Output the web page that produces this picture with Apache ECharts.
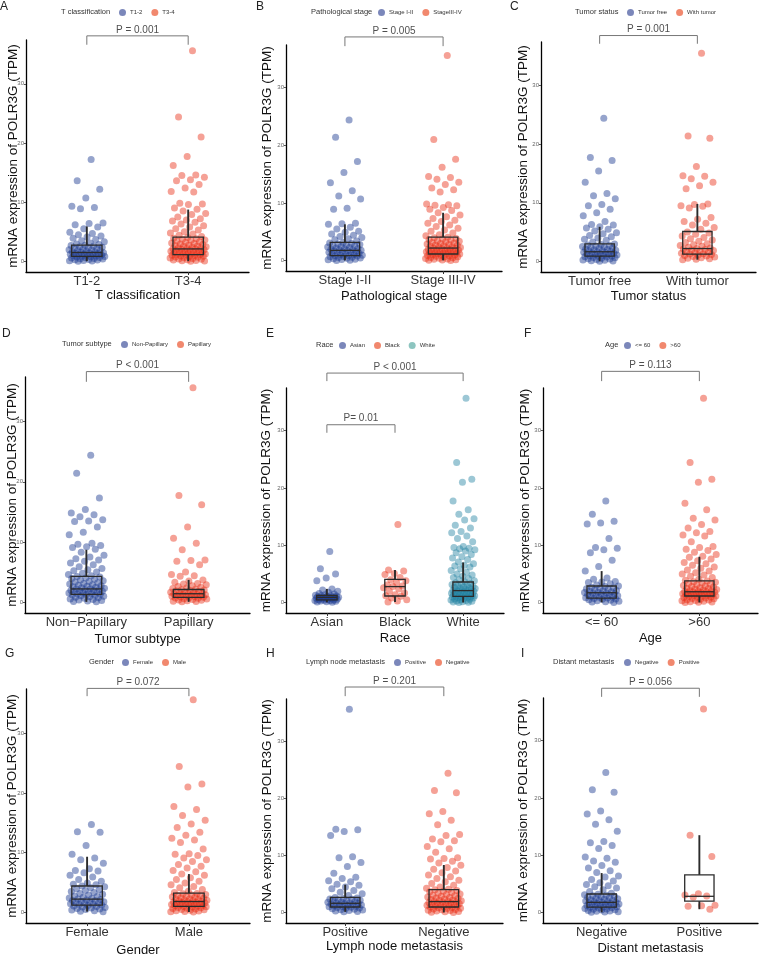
<!DOCTYPE html>
<html><head><meta charset="utf-8">
<script src="https://cdn.jsdelivr.net/npm/echarts@6/dist/echarts.min.js"></script>
<style>html,body{margin:0;padding:0;background:#fff}#c{width:761px;height:960px}</style>
</head><body><div id="c"></div>
<script>
// ---------------- categories ----------------
const catsA = ['T1-2', 'T3-4'];
const catsB = ['Stage I-II', 'Stage III-IV'];
const catsC = ['Tumor free', 'With tumor'];
const catsD = ['Non\u2212Papillary', 'Papillary'];
const catsE = ['Asian', 'Black', 'White'];
const catsF = ['<= 60', '>60'];
const catsG = ['Female', 'Male'];
const catsH = ['Positive', 'Negative'];
const catsI = ['Negative', 'Positive'];
const legendNamesB = ['Stage I-II', 'StageIII-IV'];
const legendNamesD = ['Non-Papillary', 'Papillary'];

// ---------------- values (TPM) ----------------
const valsA1 = [17.2,13.6,12.2,10.7,9.3,9.1,8.9,6.5,6.4,6.2,5.8,5.5,4.9,4.7,4.5,4.3,4.1,3.9,3.7,3.5,3.3,3.1,
 2.95,2.83,2.74,2.66,2.58,2.47,2.39,2.31,2.22,2.14,2.06,1.98,1.91,1.83,1.77,1.71,1.64,1.57,1.52,1.47,1.41,1.36,1.31,1.26,1.21,1.16,1.11,1.06,1.01,0.96,0.91,0.87,0.83,0.78,0.72,0.66,0.61,0.55,0.49,0.43,0.38,0.32,0.27,0.21,0.16,0.11,0.07,0.03];
const valsA2 = [35.6,24.4,21.0,17.7,16.2,14.6,14.5,14.2,13.8,13.6,13.0,12.4,11.8,11.7,9.8,9.7,9.6,9.0,8.8,8.5,8.1,7.9,7.5,7.2,7.0,6.8,6.6,6.3,6.0,5.8,5.5,5.3,5.0,4.8,4.6,4.4,4.2,
 4.05,3.92,3.81,3.74,3.62,3.55,3.43,3.31,3.24,3.12,3.03,2.94,2.86,2.77,2.69,2.61,2.53,2.46,2.38,2.31,2.24,2.17,2.12,2.08,2.03,1.97,1.91,1.86,1.81,1.75,1.69,1.63,1.58,1.52,1.47,1.41,1.36,1.31,1.26,1.21,1.17,1.12,1.08,1.03,0.98,0.92,0.86,0.81,0.74,0.68,0.61,0.55,0.48,0.41,0.35,0.28,0.22,0.16,0.11,0.06,0.03];
const valsB1 = [24.4,21.4,17.2,15.3,13.5,12.1,11.2,10.7,9.1,8.9,6.5,6.4,6.3,5.8,5.5,5.1,4.9,4.6,4.4,4.2,4.0,3.8,3.6,3.4,
 3.15,3.07,2.96,2.88,2.79,2.71,2.6,2.52,2.43,2.35,2.27,2.2,2.11,2.04,1.97,1.9,1.84,1.79,1.73,1.66,1.6,1.53,1.47,1.4,1.33,1.27,1.2,1.13,1.07,1.01,0.95,0.9,0.85,0.79,0.72,0.66,0.59,0.52,0.45,0.39,0.32,0.25,0.19,0.13,0.08,0.04];
const valsB2 = [35.6,21.0,17.6,16.2,14.6,14.4,14.1,13.6,13.2,12.6,12.3,11.9,9.8,9.7,9.6,9.5,9.2,8.9,8.7,8.3,7.9,7.6,7.3,7.0,6.8,6.5,6.2,5.9,5.6,5.3,5.1,4.8,4.5,4.3,
 4.07,3.96,3.85,3.77,3.66,3.58,3.46,3.35,3.27,3.16,3.07,2.98,2.9,2.81,2.73,2.65,2.57,2.5,2.42,2.35,2.28,2.21,2.16,2.11,2.05,1.99,1.93,1.88,1.82,1.76,1.7,1.64,1.59,1.53,1.48,1.42,1.37,1.32,1.27,1.22,1.18,1.13,1.09,1.04,0.99,0.93,0.87,0.82,0.75,0.69,0.62,0.56,0.49,0.42,0.36,0.29,0.23,0.17,0.12,0.07,0.04];
const valsC1 = [24.4,17.7,17.2,15.4,13.5,11.6,11.2,10.7,9.7,9.5,8.9,8.3,7.8,6.8,6.3,6.2,5.9,5.7,5.5,5.2,4.9,4.7,4.4,4.2,4.0,3.8,3.6,3.3,
 2.98,2.9,2.81,2.72,2.63,2.55,2.46,2.37,2.29,2.21,2.13,2.05,1.98,1.9,1.83,1.76,1.69,1.63,1.57,1.51,1.45,1.39,1.33,1.27,1.21,1.15,1.09,1.03,0.97,0.92,0.87,0.81,0.75,0.68,0.61,0.54,0.47,0.4,0.33,0.26,0.19,0.12,0.06,0.03];
const valsC2 = [35.5,21.4,21.0,16.2,14.6,14.5,14.1,13.5,12.9,12.4,9.8,9.7,9.5,9.4,9.1,7.5,7.2,6.8,6.5,6.2,5.8,5.5,5.0,
 4.85,4.62,4.33,4.08,3.87,3.66,3.45,3.24,3.03,2.86,2.71,2.57,2.43,2.31,2.2,2.12,2.03,1.94,1.85,1.76,1.67,1.58,1.49,1.41,1.33,1.26,1.19,1.1,1.01,0.92,0.83,0.74,0.65,0.56,0.47,0.38,0.3];
const valsD1 = [24.4,21.4,17.3,15.4,14.8,14.5,14.2,13.7,13.5,13.4,12.5,11.6,11.2,9.8,9.6,9.4,9.2,9.1,8.8,8.3,7.8,7.5,7.2,7.0,6.8,6.5,6.2,5.9,5.6,5.4,5.2,5.0,4.8,4.6,4.4,
 4.28,4.16,4.03,3.91,3.8,3.68,3.56,3.45,3.34,3.22,3.11,3.01,2.91,2.81,2.72,2.63,2.54,2.46,2.38,2.3,2.23,2.17,2.11,2.05,1.99,1.93,1.87,1.81,1.75,1.69,1.63,1.57,1.51,1.45,1.39,1.33,1.28,1.22,1.15,1.07,0.99,0.9,0.81,0.72,0.63,0.54,0.45,0.36,0.27,0.18,0.1,0.05];
const valsD2 = [35.6,17.7,16.2,12.5,10.6,9.8,8.7,7.0,6.9,6.8,6.2,5.0,4.6,4.4,4.3,3.7,3.5,3.3,3.1,3.0,
 2.88,2.74,2.61,2.49,2.38,2.27,2.16,2.08,2.01,1.94,1.87,1.8,1.73,1.66,1.6,1.54,1.48,1.42,1.37,1.32,1.27,1.22,1.17,1.12,1.07,1.02,0.97,0.92,0.87,0.82,0.77,0.71,0.65,0.58,0.51,0.44,0.37,0.3,0.23,0.16,0.1,0.05];
const valsE1 = [8.9,5.9,5.0,4.3,3.8,2.4,2.2,2.0,1.8,1.6,1.5,1.4,1.3,1.25,1.2,1.15,1.1,1.05,1.0,0.96,0.93,0.9,0.87,0.84,0.8,0.76,0.71,0.66,0.61,0.56,0.51,0.47,0.43,0.38,0.33,0.28,0.23,0.18,0.13,0.08];
const valsE2 = [13.6,5.7,5.5,5.1,4.9,4.4,4.0,3.8,3.5,3.1,2.9,2.8,2.6,2.4,2.0,1.7,1.4,1.2,1.1,0.8,0.5,0.3,0.1];
const valsE3 = [35.6,24.4,21.5,21.0,17.7,16.2,15.4,14.6,14.4,13.5,13.0,12.4,12.2,11.6,11.2,10.6,9.8,9.6,9.5,9.4,9.2,9.0,8.7,8.4,8.0,7.8,7.5,7.1,6.8,6.5,6.4,6.2,5.9,5.6,5.3,5.0,4.8,4.6,4.4,4.2,4.0,3.8,
 3.58,3.47,3.36,3.26,3.16,3.06,2.97,2.88,2.79,2.7,2.62,2.54,2.46,2.38,2.31,2.24,2.17,2.12,2.07,2.02,1.96,1.9,1.84,1.78,1.72,1.66,1.6,1.54,1.48,1.42,1.37,1.32,1.27,1.22,1.17,1.12,1.08,1.03,0.98,0.92,0.86,0.8,0.73,0.66,0.59,0.52,0.45,0.38,0.31,0.24,0.17,0.11,0.06,0.03];
const valsF1 = [17.7,15.4,14.2,13.9,13.7,11.2,9.6,9.5,9.2,8.7,7.4,6.3,5.5,4.3,4.1,3.7,3.6,3.5,3.3,3.1,
 2.92,2.81,2.7,2.6,2.5,2.41,2.32,2.23,2.14,2.06,1.98,1.9,1.83,1.76,1.7,1.63,1.56,1.49,1.42,1.35,1.28,1.21,1.14,1.07,1.0,0.93,0.86,0.8,0.73,0.66,0.58,0.5,0.42,0.34,0.26,0.18,0.11,0.05];
const valsF2 = [35.6,24.4,21.5,21.0,17.3,16.2,14.7,14.4,13.6,13.0,12.4,12.2,11.8,11.6,10.6,9.8,9.6,9.3,9.1,8.8,8.4,8.1,7.9,7.6,7.3,7.0,6.8,6.5,6.2,6.0,5.7,5.5,5.2,5.0,4.8,4.6,4.4,4.1,3.9,
 3.78,3.66,3.55,3.44,3.33,3.22,3.11,3.0,2.9,2.8,2.71,2.62,2.53,2.45,2.37,2.29,2.21,2.14,2.07,2.01,1.96,1.91,1.86,1.81,1.76,1.71,1.66,1.61,1.56,1.51,1.46,1.41,1.36,1.31,1.26,1.21,1.16,1.11,1.06,1.0,0.94,0.88,0.81,0.74,0.67,0.6,0.53,0.46,0.39,0.32,0.25,0.18,0.12,0.07,0.03];
const valsG1 = [14.7,13.5,13.4,11.2,9.7,9.1,8.8,8.2,7.3,7.0,6.9,6.6,6.2,5.9,5.5,5.2,4.9,4.7,4.6,4.4,
 4.28,4.11,3.95,3.79,3.63,3.47,3.31,3.16,3.01,2.87,2.74,2.62,2.5,2.39,2.29,2.2,2.12,2.05,1.98,1.91,1.84,1.77,1.7,1.63,1.56,1.49,1.42,1.35,1.28,1.21,1.14,1.06,0.98,0.9,0.81,0.72,0.63,0.54,0.45,0.36,0.27,0.18,0.1];
const valsG2 = [35.6,24.4,21.5,21.0,17.7,17.2,16.2,15.4,14.8,14.2,13.4,12.9,12.4,12.1,11.7,10.6,9.8,9.7,9.5,9.1,8.8,8.5,8.0,7.7,7.4,7.0,6.8,6.4,6.2,5.8,5.5,5.2,4.9,4.6,4.3,4.1,3.8,3.5,3.3,
 3.16,3.08,2.99,2.91,2.83,2.75,2.67,2.59,2.51,2.43,2.35,2.28,2.21,2.14,2.07,2.0,1.94,1.88,1.82,1.77,1.72,1.67,1.62,1.57,1.52,1.47,1.42,1.37,1.32,1.27,1.22,1.17,1.12,1.07,1.02,0.97,0.92,0.86,0.8,0.74,0.68,0.61,0.54,0.47,0.4,0.33,0.26,0.19,0.13,0.08,0.04];
const valsH1 = [35.6,14.6,14.5,14.2,13.5,9.8,9.6,8.8,8.1,6.9,6.2,6.0,5.6,5.4,5.0,4.8,4.5,4.2,3.9,3.6,3.3,3.0,
 2.68,2.59,2.5,2.42,2.34,2.26,2.18,2.1,2.03,1.96,1.89,1.82,1.75,1.69,1.63,1.57,1.51,1.45,1.39,1.33,1.27,1.21,1.15,1.09,1.03,0.97,0.91,0.84,0.77,0.7,0.62,0.54,0.46,0.38,0.3,0.22,0.15];
const valsH2 = [24.4,21.4,21.0,17.7,17.3,16.2,15.4,13.7,13.5,12.9,12.6,12.4,11.6,11.2,10.6,9.6,9.5,9.4,9.0,8.7,8.3,7.9,7.6,7.3,7.0,6.6,6.3,6.0,5.7,5.4,5.1,4.8,4.5,4.3,4.1,
 4.0,3.89,3.77,3.65,3.53,3.41,3.29,3.18,3.07,2.96,2.86,2.76,2.66,2.57,2.48,2.4,2.32,2.24,2.16,2.08,2.01,1.95,1.89,1.83,1.77,1.71,1.65,1.59,1.53,1.47,1.41,1.35,1.29,1.23,1.17,1.11,1.05,0.99,0.93,0.86,0.79,0.72,0.65,0.58,0.51,0.44,0.37,0.3,0.23,0.16,0.1,0.05];
const valsI1 = [24.4,21.4,21.0,17.7,17.2,16.2,15.4,14.2,12.4,12.2,11.7,11.2,9.7,9.5,9.0,8.8,8.2,7.8,7.3,7.0,6.4,6.2,5.8,5.5,5.2,4.9,4.7,4.5,4.3,4.0,3.7,3.4,
 3.22,3.13,3.04,2.95,2.86,2.77,2.68,2.59,2.5,2.42,2.34,2.26,2.18,2.1,2.03,1.96,1.89,1.83,1.77,1.71,1.65,1.59,1.53,1.47,1.41,1.35,1.29,1.23,1.17,1.11,1.05,0.99,0.93,0.87,0.8,0.73,0.66,0.59,0.52,0.45,0.38,0.31,0.24,0.17,0.11,0.06];
const valsI2 = [35.5,13.5,9.8,3.3,3.1,2.9,2.7,1.3,1.2,1.1,0.6];

// ---------------- box stats [min, Q1, median, Q3, upper whisker] ----------------
const boxA1 = [0.03,0.85,1.5,2.75,5.9],  boxA2 = [0.03,1.13,2.1,4.1,8.75];
const boxB1 = [0.04,0.86,1.78,3.16,6.3], boxB2 = [0.04,1.15,2.18,4.08,8.3];
const boxC1 = [0.03,0.9,1.65,3.0,5.9],   boxC2 = [0.3,1.25,2.2,5.1,9.8];
const boxD1 = [0.05,1.3,2.2,4.3,8.7],    boxD2 = [0.05,0.8,1.4,2.1,3.7];
const boxE1 = [0.08,0.47,0.93,1.28,2.4], boxE2 = [0.1,1.16,2.8,4.07,5.7], boxE3 = [0.03,1.1,2.1,3.6,7.0];
const boxF1 = [0.05,0.8,1.73,2.9,5.5],   boxF2 = [0.03,1.16,1.9,3.8,8.0];
const boxG1 = [0.1,1.2,2.2,4.4,9.3],     boxG2 = [0.04,1.0,1.8,3.2,6.4];
const boxH1 = [0.15,1.0,1.65,2.7,4.9],   boxH2 = [0.05,1.0,1.95,4.05,8.35];
const boxI1 = [0.06,0.97,1.8,3.25,6.9],  boxI2 = [0.6,2.0,2.85,6.6,13.5];

// ---------------- significance brackets [from, to, tickBottom, top, text] ----------------
const bracketsA = [[1,2,36.6,38.1,'P = 0.001']];
const bracketsB = [[1,2,37.2,38.8,'P = 0.005']];
const bracketsC = [[1,2,37.1,38.5,'P = 0.001']];
const bracketsD = [[1,2,36.6,38.3,'P < 0.001']];
const bracketsE = [[1,3,38.6,40.0,'P < 0.001'],[1,2,29.6,31.0,'P= 0.01']];
const bracketsF = [[1,2,38.6,40.3,'P = 0.113']];
const bracketsG = [[1,2,36.2,37.5,'P = 0.072']];
const bracketsH = [[1,2,37.9,39.5,'P = 0.201']];
const bracketsI = [[1,2,37.6,39.1,'P = 0.056']];

// ---------------- tick labels ----------------
const yTicks = [0, 10, 20, 30];
const yTitle = 'mRNA expression of POLR3G (TPM)';

// ---------------- styling ----------------
const BLUE = 'rgba(28,58,145,0.58)', RED = 'rgba(232,42,16,0.55)', TEAL = 'rgba(30,128,160,0.55)';
const BLUE_L = '#5a69a9', RED_L = '#ee6a4a', TEAL_L = '#70b6b0';

const panels = [
  {letter:'A', cats:catsA, leg:catsA, vals:[valsA1,valsA2], boxes:[boxA1,boxA2], br:bracketsA, xt:'T classification', lt:'T classification', col:[BLUE,RED], lcol:[BLUE_L,RED_L]},
  {letter:'B', cats:catsB, leg:legendNamesB, vals:[valsB1,valsB2], boxes:[boxB1,boxB2], br:bracketsB, xt:'Pathological stage', lt:'Pathological stage', col:[BLUE,RED], lcol:[BLUE_L,RED_L]},
  {letter:'C', cats:catsC, leg:catsC, vals:[valsC1,valsC2], boxes:[boxC1,boxC2], br:bracketsC, xt:'Tumor status', lt:'Tumor status', col:[BLUE,RED], lcol:[BLUE_L,RED_L]},
  {letter:'D', cats:catsD, leg:legendNamesD, vals:[valsD1,valsD2], boxes:[boxD1,boxD2], br:bracketsD, xt:'Tumor subtype', lt:'Tumor subtype', col:[BLUE,RED], lcol:[BLUE_L,RED_L]},
  {letter:'E', cats:catsE, leg:catsE, vals:[valsE1,valsE2,valsE3], boxes:[boxE1,boxE2,boxE3], br:bracketsE, xt:'Race', lt:'Race', col:[BLUE,RED,TEAL], lcol:[BLUE_L,RED_L,TEAL_L]},
  {letter:'F', cats:catsF, leg:catsF, vals:[valsF1,valsF2], boxes:[boxF1,boxF2], br:bracketsF, xt:'Age', lt:'Age', col:[BLUE,RED], lcol:[BLUE_L,RED_L]},
  {letter:'G', cats:catsG, leg:catsG, vals:[valsG1,valsG2], boxes:[boxG1,boxG2], br:bracketsG, xt:'Gender', lt:'Gender', col:[BLUE,RED], lcol:[BLUE_L,RED_L]},
  {letter:'H', cats:catsH, leg:catsH, vals:[valsH1,valsH2], boxes:[boxH1,boxH2], br:bracketsH, xt:'Lymph node metastasis', lt:'Lymph node metastasis', col:[BLUE,RED], lcol:[BLUE_L,RED_L]},
  {letter:'I', cats:catsI, leg:catsI, vals:[valsI1,valsI2], boxes:[boxI1,boxI2], br:bracketsI, xt:'Distant metastasis', lt:'Distant metastasis', col:[BLUE,RED], lcol:[BLUE_L,RED_L]}
];

// layout: grid [left, top, width, height], y-name gap, x-name gap, letter pos, legend title pos, legend left
const layout = [
  {g:[26,40,223,232],  yg:6,  xg:17, L:[0,1],    T:[61,13],  lg:119},
  {g:[286,45,216,226], yg:12, xg:19, L:[256,1],  T:[311,13], lg:378},
  {g:[541,42,215,230], yg:11, xg:18, L:[510,1],  T:[575,13], lg:627},
  {g:[25,377,225,236], yg:6,  xg:20, L:[2,328],  T:[62,345], lg:121},
  {g:[286,388,218,225],yg:13, xg:19, L:[266,328],T:[316,346],lg:339},
  {g:[543,388,215,225],yg:11, xg:19, L:[524,328],T:[605,346],lg:624},
  {g:[26,689,224,234], yg:7,  xg:21, L:[5,648],  T:[89,663], lg:122},
  {g:[286,699,217,224],yg:12, xg:17, L:[266,648],T:[306,663],lg:394},
  {g:[543,698,215,225],yg:13, xg:19, L:[521,648],T:[553,663],lg:624}
];

const FONT = '"Liberation Sans", Arial, Helvetica, sans-serif';
const jit = i => (((i + 1) * 0.6180339887) % 1 - 0.5) * 0.36;

const grid = [], xAxis = [], yAxis = [], series = [], title = [], legend = [];

panels.forEach((p, k) => {
  const l = layout[k];
  const n = p.cats.length;
  const pos = p.cats.map((c, i) => i + 1);
  grid.push({left:l.g[0], top:l.g[1], width:l.g[2], height:l.g[3], containLabel:false, outerBoundsMode:'none'});
  xAxis.push({
    gridIndex:k, type:'value', min:0.4, max:n + 0.6,
    axisLine:{show:true, onZero:false, lineStyle:{color:'#000', width:1.3}},
    axisTick:{show:true, customValues:pos, length:3, lineStyle:{color:'#333', width:1}},
    axisLabel:{show:true, customValues:pos, formatter:v => p.cats[Math.round(v) - 1], fontSize:13, color:'#333', margin:3, fontFamily:FONT},
    splitLine:{show:false},
    name:p.xt, nameLocation:'middle', nameGap:l.xg, nameMoveOverlap:false,
    nameTextStyle:{fontSize:13, color:'#111', fontFamily:FONT}
  });
  yAxis.push({
    gridIndex:k, type:'value', min:-1.8, max:37.4,
    axisLine:{show:true, onZero:false, lineStyle:{color:'#000', width:1.3}},
    axisTick:{show:true, customValues:yTicks, length:2, lineStyle:{color:'#555'}},
    axisLabel:{show:true, customValues:yTicks, fontSize:6, color:'#666', margin:2, fontFamily:FONT},
    splitLine:{show:false},
    name:yTitle, nameLocation:'middle', nameGap:l.yg, nameRotate:90, nameMoveOverlap:false,
    nameTextStyle:{fontSize:13.5, color:'#111', fontFamily:FONT}
  });
  // points
  p.vals.forEach((vals, g) => {
    series.push({
      type:'scatter', name:p.cats[g], xAxisIndex:k, yAxisIndex:k, silent:true, clip:false,
      symbol:'circle', symbolSize:7, itemStyle:{color:p.col[g], borderWidth:0}, z:2,
      data:vals.map((v, i) => [g + 1 + jit(i), v])
    });
  });
  // boxes
  series.push({
    type:'custom', xAxisIndex:k, yAxisIndex:k, silent:true, z:3, clip:false,
    data:p.boxes.map((b, g) => [g + 1].concat(b)),
    renderItem:(params, api) => {
      const x = api.value(0), mn = api.value(1), q1 = api.value(2), md = api.value(3), q3 = api.value(4), mx = api.value(5);
      const w = 0.15;
      const tl = api.coord([x - w, q3]), br = api.coord([x + w, q1]);
      const ml = api.coord([x - w, md]), mr = api.coord([x + w, md]);
      const t = api.coord([x, mx]), a = api.coord([x, q3]), b = api.coord([x, q1]), bt = api.coord([x, mn]);
      const ls = {stroke:'#2b2b2b', lineWidth:1.9};
      const bs = {stroke:'#2b2b2b', lineWidth:1.3, fill:null};
      return {type:'group', children:[
        {type:'line', shape:{x1:t[0], y1:t[1], x2:a[0], y2:a[1]}, style:ls},
        {type:'line', shape:{x1:b[0], y1:b[1], x2:bt[0], y2:bt[1]}, style:ls},
        {type:'rect', shape:{x:tl[0], y:tl[1], width:br[0] - tl[0], height:br[1] - tl[1]}, style:bs},
        {type:'line', shape:{x1:ml[0], y1:ml[1], x2:mr[0], y2:mr[1]}, style:{stroke:'#2b2b2b', lineWidth:1.3}}
      ]};
    }
  });
  // brackets
  p.br.forEach(bk => {
    series.push({
      type:'line', xAxisIndex:k, yAxisIndex:k, silent:true, clip:false, symbol:'none', z:4,
      lineStyle:{color:'#777', width:1},
      data:[[bk[0], bk[2]], [bk[0], bk[3]], [bk[1], bk[3]], [bk[1], bk[2]]]
    });
    series.push({
      type:'scatter', xAxisIndex:k, yAxisIndex:k, silent:true, clip:false, symbolSize:0, z:4,
      data:[[(bk[0] + bk[1]) / 2, bk[3]]],
      label:{show:true, position:'top', distance:1, formatter:bk[4], fontSize:10, color:'#222', fontFamily:FONT}
    });
  });
  // panel letter
  title.push({text:p.letter, left:l.L[0], top:l.L[1], padding:0,
    textStyle:{fontSize:12, fontWeight:'normal', color:'#222', fontFamily:FONT}});
  // legend title
  title.push({text:p.lt, left:l.T[0], top:l.T[1] - 5, padding:0,
    textStyle:{fontSize:7.5, fontWeight:'normal', color:'#333', fontFamily:FONT}});
  legend.push({
    left:l.lg, top:l.T[1] - 4, padding:0, orient:'horizontal', icon:'circle',
    itemWidth:7, itemHeight:7, itemGap:9, selectedMode:false,
    textStyle:{fontSize:6, color:'#333', fontFamily:FONT, padding:[0,0,0,-1]},
    data:p.cats.map((c, g) => ({name:c, itemStyle:{color:p.lcol[g]}})),
    formatter:name => { const i = p.cats.indexOf(name); return i >= 0 ? p.leg[i] : name; }
  });
});

const chart = echarts.init(document.getElementById('c'), null, {renderer:'canvas'});
chart.setOption({
  animation:false, backgroundColor:'#fff', textStyle:{fontFamily:FONT},
  grid, xAxis, yAxis, series, title, legend
});
</script></body></html>
